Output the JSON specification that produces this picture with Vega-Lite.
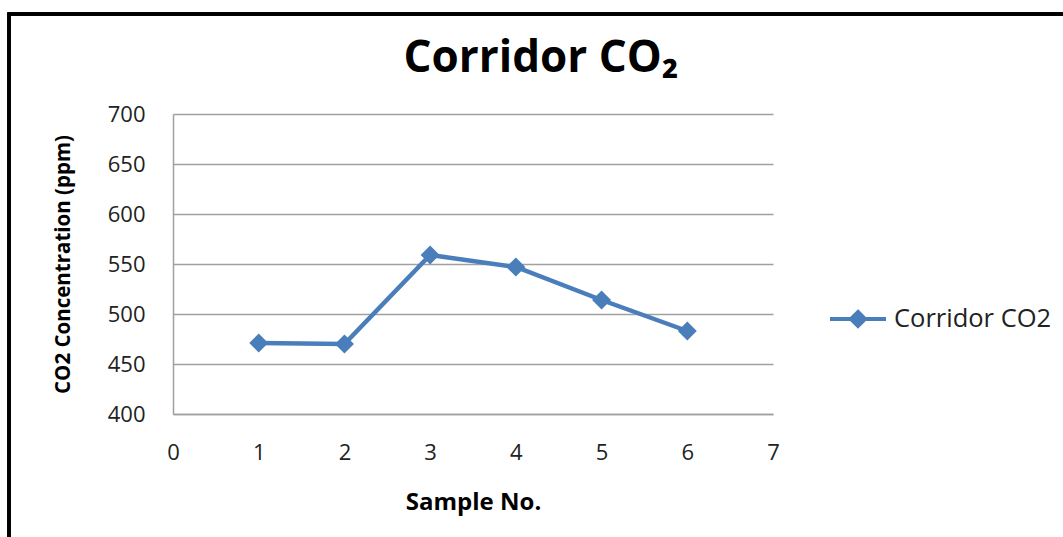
{
  "$schema": "https://vega.github.io/schema/vega-lite/v6.json",
  "width": 600,
  "height": 300,
  "autosize": {"type": "none"},
  "padding": {"left": 173, "top": 114, "right": 290, "bottom": 123},
  "background": "white",
  "title": {
    "text": "Corridor CO₂",
    "font": "Open Sans",
    "fontSize": 44,
    "fontWeight": "bold",
    "color": "#000000",
    "anchor": "middle",
    "frame": "group",
    "dx": 68,
    "offset": -68
  },
  "data": {
    "values": [
      {"sample": 1, "co2": 471, "series": "Corridor CO2"},
      {"sample": 2, "co2": 470, "series": "Corridor CO2"},
      {"sample": 3, "co2": 559, "series": "Corridor CO2"},
      {"sample": 4, "co2": 547, "series": "Corridor CO2"},
      {"sample": 5, "co2": 514, "series": "Corridor CO2"},
      {"sample": 6, "co2": 483, "series": "Corridor CO2"}
    ]
  },
  "layer": [
    {
      "mark": {"type": "rect", "fill": null, "stroke": "#000000", "strokeWidth": 3, "clip": false},
      "encoding": {
        "x": {"value": -164},
        "y": {"value": -100},
        "x2": {"value": 1000},
        "y2": {"value": 600}
      }
    },
    {
      "mark": {
        "type": "line",
        "strokeWidth": 4.5,
        "point": {"shape": "diamond", "size": 360, "filled": true, "opacity": 1}
      },
      "encoding": {
        "x": {
          "field": "sample",
          "type": "quantitative",
          "scale": {"domain": [0, 7], "nice": false, "zero": false},
          "axis": {
            "values": [0, 1, 2, 3, 4, 5, 6, 7],
            "grid": false,
            "ticks": false,
            "tickSize": 0,
            "labelFlush": false,
            "domainColor": "#a0a0a0",
            "domainWidth": 1.5,
            "labelFont": "Open Sans",
            "labelFontSize": 22,
            "labelColor": "#222222",
            "labelPadding": 28,
            "title": "Sample No.",
            "titleFont": "Open Sans",
            "titleFontSize": 24,
            "titleFontWeight": "bold",
            "titleColor": "#000000",
            "titlePadding": 27
          }
        },
        "y": {
          "field": "co2",
          "type": "quantitative",
          "scale": {"domain": [400, 700], "nice": false, "zero": false},
          "axis": {
            "values": [400, 450, 500, 550, 600, 650, 700],
            "grid": true,
            "gridColor": "#a0a0a0",
            "gridWidth": 1.5,
            "ticks": false,
            "tickSize": 0,
            "labelFlush": false,
            "domainColor": "#a0a0a0",
            "domainWidth": 1.5,
            "labelFont": "Open Sans",
            "labelFontSize": 22,
            "labelColor": "#222222",
            "labelPadding": 28,
            "title": "CO2 Concentration (ppm)",
            "titleFont": "Open Sans",
            "titleFontSize": 20.5,
            "titleFontWeight": "bold",
            "titleColor": "#000000",
            "titlePadding": 34
          }
        },
        "color": {
          "field": "series",
          "type": "nominal",
          "scale": {"range": ["#4a7ebb"]},
          "legend": {
            "title": null,
            "orient": "none",
            "legendX": 655,
            "legendY": 175,
            "symbolType": "M-1,0L1,0M0,-0.25L0.25,0L0,0.25L-0.25,0Z",
            "symbolSize": 3136,
            "symbolStrokeWidth": 4,
            "symbolFillColor": "#4a7ebb",
            "symbolStrokeColor": "#4a7ebb",
            "labelFont": "Open Sans",
            "labelFontSize": 25.5,
            "labelColor": "#222222",
            "labelOffset": 6
          }
        }
      }
    }
  ],
  "config": {"view": {"stroke": null}}
}
